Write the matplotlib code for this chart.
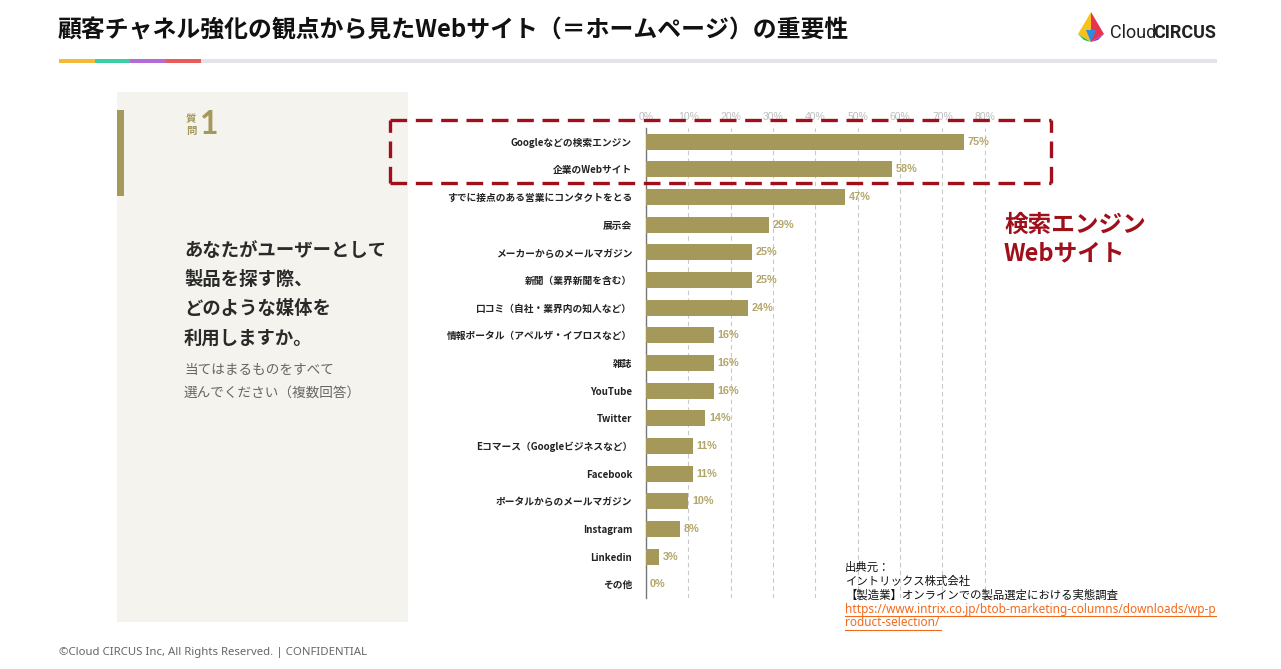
import matplotlib
matplotlib.use('Agg')
import matplotlib.pyplot as plt
from matplotlib.patches import Rectangle, Polygon
from matplotlib.lines import Line2D

plt.rcParams['font.family'] = ['Noto Sans CJK JP', 'DejaVu Sans']

categories = [
    'Googleなどの検索エンジン', '企業のWebサイト', 'すでに接点のある営業にコンタクトをとる',
    '展示会', 'メーカーからのメールマガジン', '新聞（業界新聞を含む）',
    '口コミ（自社・業界内の知人など）', '情報ポータル（アペルザ・イプロスなど）', '雑誌',
    'YouTube', 'Twitter', 'Eコマース（Googleビジネスなど）', 'Facebook',
    'ポータルからのメールマガジン', 'Instagram', 'Linkedin', 'その他'
]
values = [75, 58, 47, 29, 25, 25, 24, 16, 16, 16, 14, 11, 11, 10, 8, 3, 0]
tick_values = [0, 10, 20, 30, 40, 50, 60, 70, 80]

W, H = 1281, 669
BAR = '#A4985A'
LABEL = '#B3A66C'
RED = '#A0101A'

fig = plt.figure(figsize=(W / 100, H / 100), dpi=100)
fig.patch.set_facecolor('white')


def fx(x):
    return x / W


def fy(y):
    return 1 - y / H


def txt(x, y, s, **kw):
    kw.setdefault('va', 'center')
    fig.text(fx(x), fy(y), s, **kw)


def rect(x0, y0, x1, y1, color, **kw):
    fig.add_artist(Rectangle((fx(x0), fy(y1)), fx(x1) - fx(x0), fy(y0) - fy(y1),
                             transform=fig.transFigure, facecolor=color,
                             edgecolor='none', **kw))


# title + header bar
txt(58, 30, '顧客チャネル強化の観点から見たWebサイト（＝ホームページ）の重要性',
    fontsize=17.2, fontweight='bold', color='#111111')
rect(59, 59, 1217, 63, '#E3E4E7')
for i, c in enumerate(['#F5B93A', '#3DCFA4', '#B46BD8', '#E85C5C']):
    rect(59 + i * 35.5, 59, 59 + (i + 1) * 35.5, 63, c)

# logo
drop = [((1091, 12), (1078, 34), (1091, 42), '#F7C21B'),
        ((1091, 12), (1091, 42), (1104, 34), '#E8344E'),
        ((1078, 34), (1091, 42), (1084, 40), '#2DB84B'),
        ((1091, 42), (1104, 34), (1098, 40), '#7B3FD1'),
        ((1086, 30), (1091, 42), (1096, 30), '#2B8BE6')]
for a, b, c, col in drop:
    fig.add_artist(Polygon([(fx(a[0]), fy(a[1])), (fx(b[0]), fy(b[1])), (fx(c[0]), fy(c[1]))],
                           closed=True, transform=fig.transFigure, facecolor=col,
                           edgecolor='none'))
txt(1110, 33, 'Cloud', fontsize=13, color='#222222', family=['Roboto', 'DejaVu Sans'])
txt(1153, 33, 'CIRCUS', fontsize=13, color='#222222', fontweight='bold',
    family=['Roboto', 'DejaVu Sans'])

# left panel
rect(117, 92, 408, 622, '#F4F3EE')
rect(117, 110, 124, 196, BAR)
txt(191, 119, '質', fontsize=7.5, color=BAR, fontweight='bold', ha='center')
txt(191, 131, '問', fontsize=7.5, color=BAR, fontweight='bold', ha='center')
txt(200, 125, '1', fontsize=23, color=BAR, fontweight='bold',
    family=['Lato', 'DejaVu Sans'])
for i, line in enumerate(['あなたがユーザーとして', '製品を探す際、', 'どのような媒体を', '利用しますか。']):
    txt(184, 251 + i * 29, line, fontsize=13.2, color='#2A2A2A', fontweight='bold')
txt(184, 370, '当てはまるものをすべて', fontsize=9.8, color='#666666')
txt(184, 393, '選んでください（複数回答）', fontsize=9.8, color='#666666')

# chart
ax = fig.add_axes([fx(646), fy(598), fx(1006) - fx(646), fy(128) - fy(598)])
ax.set_facecolor('none')
y = list(range(len(categories)))
ax.barh(y, values, height=0.58, color=BAR, zorder=3)
for yi, v in zip(y, values):
    ax.text(v + 0.9, yi, f'{v}%', va='center', ha='left', fontsize=7.8,
            color=LABEL, fontweight='bold', family=['Liberation Sans', 'DejaVu Sans'])
ax.set_ylim(len(categories) - 0.5, -0.5)
ax.set_xlim(0, 85)
ax.set_yticks(y)
ax.set_yticklabels(categories, fontsize=7, fontweight='bold', color='#222222')
ax.set_xticks(tick_values)
ax.set_xticklabels([f'{t}%' for t in tick_values], fontsize=7.5, color='#BDBDBD',
                   family=['Liberation Sans', 'DejaVu Sans'])
ax.xaxis.tick_top()
ax.tick_params(axis='both', length=0)
ax.tick_params(axis='y', pad=10)
ax.tick_params(axis='x', pad=4)
for t in tick_values[1:]:
    ax.axvline(t, color='#C9C9C9', lw=0.8, ls=(0, (4, 3)), zorder=1)
for s in ['top', 'right', 'bottom']:
    ax.spines[s].set_visible(False)
ax.spines['left'].set_color('#777777')
ax.spines['left'].set_linewidth(1.0)

# highlight box
x0, x1, y0, y1 = fx(390), fx(1051), fy(183), fy(120)
for xs, ys in [([x0, x1], [y1, y1]), ([x0, x1], [y0, y0]), ([x1, x1], [y0, y1]), ([x0, x0], [y0, y1])]:
    fig.add_artist(Line2D(xs, ys, transform=fig.transFigure, color=RED, lw=2.4,
                          ls=(0, (5, 2.6))))
txt(1004, 225, '検索エンジン', fontsize=17, color=RED, fontweight='bold')
txt(1004, 253, 'Webサイト', fontsize=17, color=RED, fontweight='bold')

# source
src = ['出典元：', 'イントリックス株式会社', '【製造業】オンラインでの製品選定における実態調査']
for i, s in enumerate(src):
    txt(845, 567 + i * 14, s, fontsize=8.2, color='#111111')
ORANGE = '#F26A1B'
txt(845, 609, 'https://www.intrix.co.jp/btob-marketing-columns/downloads/wp-p',
    fontsize=8.5, color=ORANGE, family=['Noto Sans', 'DejaVu Sans'])
txt(845, 623, 'roduct-selection/', fontsize=8.5, color=ORANGE, family=['Noto Sans', 'DejaVu Sans'])
for yy, xe in [(616, 1216), (630, 941)]:
    fig.add_artist(Line2D([fx(845), fx(xe)], [fy(yy), fy(yy)], transform=fig.transFigure,
                          color=ORANGE, lw=0.8))

# footer
txt(59, 653, '©Cloud CIRCUS Inc, All Rights Reserved. | CONFIDENTIAL', fontsize=8.2,
    color='#666666', family=['Noto Sans', 'DejaVu Sans'])

fig.savefig('out.png', dpi=100, facecolor='white')
